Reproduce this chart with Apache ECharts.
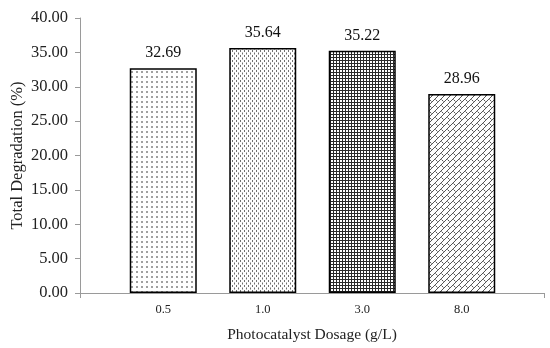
<!DOCTYPE html>
<html><head><meta charset="utf-8">
<script src="https://cdn.jsdelivr.net/npm/echarts@6/dist/echarts.min.js"></script>
<style>html,body{margin:0;padding:0;background:#fff}#c{width:550px;height:348px}</style>
</head><body><div id="c"></div>
<script>
const categories = ['0.5', '1.0', '3.0', '8.0'];
const values = [32.69, 35.64, 35.22, 28.96];
const yTicks = [0, 5, 10, 15, 20, 25, 30, 35, 40];

function pat(w, h, draw) {
  const c = document.createElement('canvas');
  c.width = w; c.height = h;
  const g = c.getContext('2d');
  g.fillStyle = '#fff'; g.fillRect(0, 0, w, h);
  draw(g);
  return { image: c, repeat: 'repeat' };
}
const patterns = [
  pat(5, 5, g => { g.fillStyle = '#a0a0a0'; g.fillRect(1, 1, 2, 2); }),
  pat(4, 5, g => { g.fillStyle = '#707070'; g.fillRect(0, 0, 1, 2); g.fillRect(2, 2.5, 1, 2); }),
  pat(3, 3, g => { g.fillStyle = '#2a2a2a'; g.fillRect(0, 0, 3, 1); g.fillRect(0, 0, 1, 3); }),
  pat(6, 6, g => {
    g.strokeStyle = '#555'; g.lineWidth = 1;
    g.beginPath(); g.moveTo(-1, 7); g.lineTo(7, -1); g.stroke();
    g.beginPath(); g.moveTo(3.5, 3.5); g.lineTo(5.5, 5.5); g.stroke();
  })
];

const font = 'Liberation Serif';
const chart = echarts.init(document.getElementById('c'));
chart.setOption({
  animation: false,
  grid: [
    { left: 80, right: 6, top: 18, bottom: 55, outerBoundsMode: 'none' },
    { left: 113.5, width: 398, top: 18, bottom: 55, outerBoundsMode: 'none' }
  ],
  xAxis: [
    { gridIndex: 0, type: 'category', data: [''], boundaryGap: true,
      axisLine: { lineStyle: { color: '#9a9a9a', width: 1 } },
      axisTick: { show: true, length: 5, lineStyle: { color: '#9a9a9a' } },
      axisLabel: { show: false }, nameMoveOverlap: false,
      name: 'Photocatalyst Dosage (g/L)', nameLocation: 'middle', nameGap: 34,
      nameTextStyle: { fontFamily: font, fontSize: 15.5, color: '#222' } },
    { gridIndex: 1, type: 'category', data: categories,
      axisLine: { show: false }, axisTick: { show: false },
      axisLabel: { fontFamily: font, fontSize: 12.5, color: '#222', margin: 10 } }
  ],
  yAxis: [
    { gridIndex: 0, type: 'value', min: yTicks[0], max: yTicks[yTicks.length - 1], interval: 5,
      axisLine: { show: true, lineStyle: { color: '#9a9a9a' } },
      axisTick: { show: true, length: 5, lineStyle: { color: '#9a9a9a' } },
      splitLine: { show: false },
      axisLabel: { fontFamily: font, fontSize: 16.5, color: '#222', margin: 12,
        formatter: v => v.toFixed(2) },
      nameMoveOverlap: false,
      name: 'Total Degradation (%)', nameLocation: 'middle', nameGap: 54,
      nameTextStyle: { fontFamily: font, fontSize: 16.5, color: '#222' } },
    { gridIndex: 1, type: 'value', min: 0, max: 40, show: false }
  ],
  series: [{
    type: 'bar', xAxisIndex: 1, yAxisIndex: 1, barWidth: 67,
    data: values.map((v, i) => ({ value: v, itemStyle: { color: patterns[i] } })),
    itemStyle: { borderColor: '#000', borderWidth: 1.5 },
    label: { show: true, position: 'top', distance: 7, fontFamily: font, fontSize: 16, color: '#111',
      formatter: p => p.value.toFixed(2) }
  }]
});
</script></body></html>
